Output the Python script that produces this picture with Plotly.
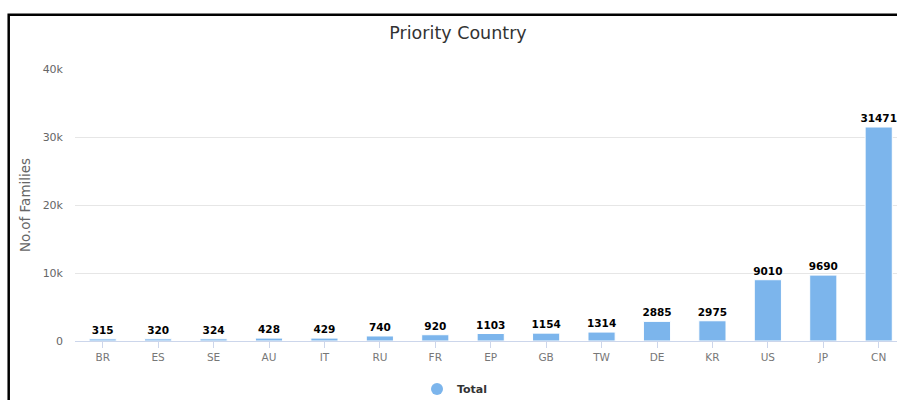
import plotly.graph_objects as go

countries = ["BR", "ES", "SE", "AU", "IT", "RU", "FR", "EP", "GB", "TW", "DE", "KR", "US", "JP", "CN"]
families = [315, 320, 324, 428, 429, 740, 920, 1103, 1154, 1314, 2885, 2975, 9010, 9690, 31471]
y_tick_vals = [0, 10000, 20000, 30000, 40000]
y_tick_text = ["0", "10k", "20k", "30k", "40k"]
series_name = "Total"
title_text = "Priority Country"
y_title = "No.of Families"

BAR_COLOR = "#7cb5ec"
FONT = "DejaVu Sans"

fig = go.Figure()
fig.add_trace(go.Bar(
    x=countries, y=families,
    marker=dict(color=BAR_COLOR, line=dict(color="white", width=1)),
    width=0.49,
    text=[str(v) for v in families],
    textposition="outside",
    constraintext="none",
    textfont=dict(family=FONT, size=10.5, color="#000000", weight="bold"),
    cliponaxis=False,
    showlegend=False,
    name=series_name,
))
fig.add_trace(go.Scatter(
    x=[None], y=[None], mode="markers",
    marker=dict(color=BAR_COLOR, size=12, symbol="circle"),
    name=series_name, showlegend=True,
))

fig.update_layout(
    width=897, height=400,
    margin=dict(l=75, r=0, t=69, b=59, autoexpand=False),
    paper_bgcolor="white", plot_bgcolor="white",
    font=dict(family=FONT, color="#666666"),
    title=dict(text=title_text, x=458 / 897, xref="container", xanchor="center",
               y=1 - 33 / 400, yref="container", yanchor="middle",
               font=dict(family=FONT, size=17.5, color="#333333")),
    xaxis=dict(
        range=[-0.5, 14.33],
        showgrid=False,
        showline=True, linecolor="#ccd6eb", linewidth=1,
        ticks="outside", ticklen=6, tickcolor="#ccd6eb", tickwidth=1,
        tickfont=dict(family=FONT, size=10.5, color="#777777"),
        zeroline=False, fixedrange=True,
    ),
    yaxis=dict(
        range=[0, 40000],
        tickvals=y_tick_vals, ticktext=y_tick_text,
        showgrid=True, gridcolor="#e6e6e6", gridwidth=1,
        showline=False, zeroline=False,
        ticks="", ticklabelstandoff=11,
        tickfont=dict(family=FONT, size=11, color="#666666"),
        title=dict(text=y_title, font=dict(family=FONT, size=13.5, color="#666666"), standoff=8),
    ),
    legend=dict(
        orientation="h", x=(455 - 75) / 822, xanchor="center",
        y=(341 - 389) / 272, yanchor="middle",
        font=dict(family=FONT, size=11, color="#333333", weight="bold"),
        bgcolor="rgba(0,0,0,0)",
    ),
    bargap=0.5,
    shapes=[dict(
        type="rect", xref="paper", yref="paper",
        x0=(8.7 - 75) / 822, x1=1.2,
        y0=-0.4, y1=(341 - 14.7) / 272,
        line=dict(color="black", width=2.5), fillcolor="rgba(0,0,0,0)", layer="above",
    )],
)

fig.write_html("out.html")
